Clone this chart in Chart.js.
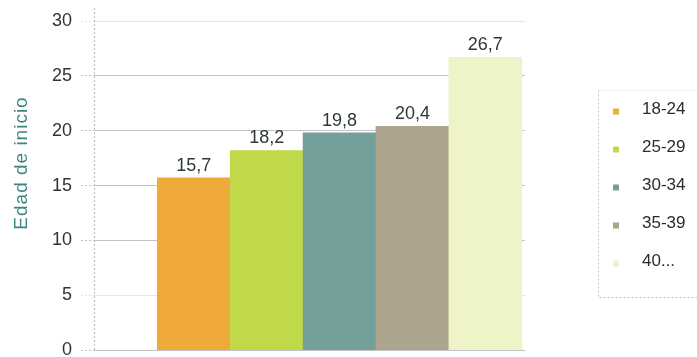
<!DOCTYPE html>
<html>
<head>
<meta charset="utf-8">
<script src="https://cdn.jsdelivr.net/npm/chart.js@4/dist/chart.umd.min.js"></script>
<style>
  html, body { margin: 0; padding: 0; background: #fff; overflow: hidden; }
  .wrap { position: relative; width: 697px; height: 370px; }
</style>
</head>
<body>
<div class="wrap"><canvas id="edadChart"></canvas></div>
<script>
// age groups and the starting age of each one
const categories = ['18-24', '25-29', '30-34', '35-39', '40...'];
const startAge = [15.7, 18.2, 19.8, 20.4, 26.7];
const barColors = ['#F0A93B', '#BFD94A', '#74A09B', '#ACA48C', '#EEF4C8'];
const yTicks = [0, 5, 10, 15, 20, 25, 30];
const axisTitle = 'Edad de inicio';

const FONT = '"Liberation Sans", Arial, sans-serif';

// value above each bar, written with a decimal comma
const valueLabels = {
  id: 'valueLabels',
  afterDatasetsDraw(chart) {
    const { ctx } = chart;
    const meta = chart.getDatasetMeta(0);
    ctx.save();
    ctx.font = '18px ' + FONT;
    ctx.fillStyle = '#2e3838';
    ctx.textAlign = 'center';
    ctx.textBaseline = 'alphabetic';
    meta.data.forEach((bar, i) => {
      const txt = startAge[i].toFixed(1).replace('.', ',');
      ctx.fillText(txt, bar.x, bar.y - 7);
    });
    ctx.restore();
  }
};

// vertical axis line, rotated title and the boxed legend on the right
const decorations = {
  id: 'decorations',
  beforeDatasetsDraw(chart) {
    const { ctx, chartArea } = chart;
    ctx.save();
    ctx.strokeStyle = '#bdbdbd';
    ctx.setLineDash([2, 2]);
    ctx.lineWidth = 1;
    ctx.beginPath();
    ctx.moveTo(Math.round(chartArea.left) + 0.5, 8);
    ctx.lineTo(Math.round(chartArea.left) + 0.5, chartArea.bottom);
    ctx.stroke();
    ctx.restore();
  },
  afterDraw(chart) {
    const { ctx } = chart;
    ctx.save();
    // y axis title
    ctx.translate(22, 163);
    ctx.rotate(-Math.PI / 2);
    ctx.font = '19px ' + FONT;
    ctx.letterSpacing = '1px';
    ctx.fillStyle = '#3c8783';
    ctx.textAlign = 'center';
    ctx.textBaseline = 'middle';
    ctx.fillText(axisTitle, 0, 0);
    ctx.restore();

    // legend frame
    ctx.save();
    ctx.setLineDash([2, 2]);
    ctx.lineWidth = 1;
    ctx.strokeStyle = '#c4c4c4';
    ctx.beginPath();
    ctx.moveTo(598.5, 90.5);
    ctx.lineTo(598.5, 297.5);
    ctx.lineTo(697, 297.5);
    ctx.stroke();
    ctx.strokeStyle = '#e2e2e2';
    ctx.beginPath();
    ctx.moveTo(598.5, 90.5);
    ctx.lineTo(697, 90.5);
    ctx.stroke();

    // legend entries
    ctx.setLineDash([]);
    ctx.font = '17px ' + FONT;
    ctx.textAlign = 'left';
    ctx.textBaseline = 'middle';
    categories.forEach((name, i) => {
      const cy = 109 + i * 38;
      ctx.fillStyle = barColors[i];
      ctx.fillRect(613, cy - 0.5, 6, 6);
      ctx.fillStyle = '#2b2b2b';
      ctx.fillText(name, 642, cy);
    });
    ctx.restore();
  }
};

new Chart(document.getElementById('edadChart'), {
  type: 'bar',
  data: {
    datasets: [{
      label: axisTitle,
      data: startAge.map((v, i) => ({ x: i + 1, y: v })),
      backgroundColor: barColors,
      borderWidth: 0,
      barPercentage: 1,
      categoryPercentage: 1
    }]
  },
  options: {
    responsive: true,
    maintainAspectRatio: false,
    animation: false,
    layout: { padding: { left: 43, right: 172, top: 21, bottom: 0 } },
    plugins: {
      legend: { display: false },
      tooltip: { enabled: false }
    },
    scales: {
      x: {
        type: 'linear',
        display: false,
        offset: false,
        min: -0.368,
        max: 5.544,
        // one tick per bar keeps the bar width at one full unit
        afterBuildTicks(scale) {
          scale.ticks = categories.map((c, i) => ({ value: i + 1 }));
        }
      },
      y: {
        min: 0,
        max: 30,
        afterBuildTicks(scale) {
          scale.ticks = yTicks.map(v => ({ value: v }));
        },
        border: { display: false },
        grid: {
          color: ctx => (ctx.tick && (ctx.tick.value === 5 || ctx.tick.value === 30)) ? '#e3e6e6' : '#c2c2c2',
          borderDash: [2, 2],
          tickBorderDash: [2, 2],
          tickLength: 13,
          lineWidth: 1
        },
        ticks: {
          padding: 9,
          color: '#2f3434',
          font: { family: FONT, size: 18 }
        }
      }
    }
  },
  plugins: [valueLabels, decorations]
});
</script>
</body>
</html>
